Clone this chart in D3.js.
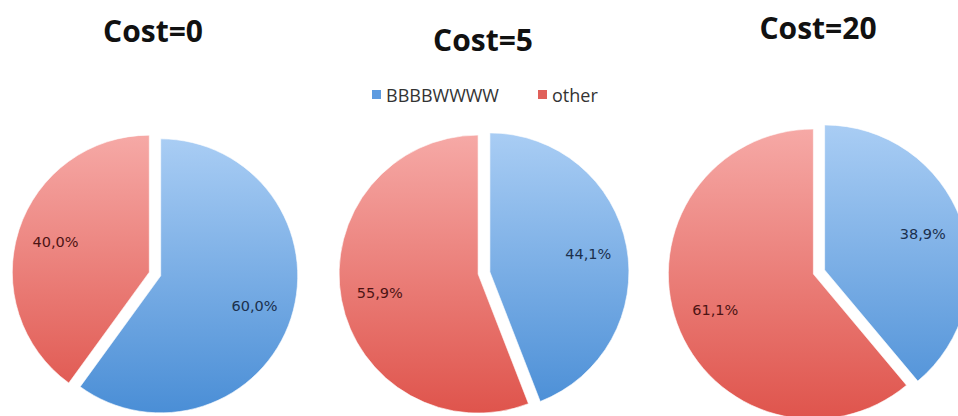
<!DOCTYPE html>
<html>
<head>
<meta charset="utf-8">
<script src="https://cdn.jsdelivr.net/npm/d3@7"></script>
<style>
  html, body { margin: 0; padding: 0; background: #fff; }
  svg { display: block; }
</style>
</head>
<body>
<svg id="chart" width="958" height="416"></svg>
<script>
// ---- data ----
const seriesNames = ["BBBBWWWW", "other"];
const chartTitles = ["Cost=0", "Cost=5", "Cost=20"];
const bbbbwwwwValues = [60.0, 44.1, 38.9];
const otherValues = [40.0, 55.9, 61.1];

// ---- layout (not data) ----
const W = 958, H = 416;
const pieLayout = [
  { cx: 155, cy: 274, r: 137, titleX: 153, titleY: 42 },
  { cx: 484, cy: 273, r: 139, titleX: 483, titleY: 51 },
  { cx: 819, cy: 272, r: 145, titleX: 818, titleY: 39 }
];
const explode = 6;
const labelFrac = 0.72;

const svg = d3.select("#chart");
const defs = svg.append("defs");

const gradStops = {
  "BBBBWWWW": ["#a9cdf4", "#4a8ed6"],
  "other": ["#f6a9a6", "#df544c"]
};
const labelColors = { "BBBBWWWW": "#1b304d", "other": "#4d1414" };
const legendColors = { "BBBBWWWW": "#5d9be0", "other": "#e0605a" };

const pie = d3.pie().sort(null).value(d => d.value).startAngle(0).endAngle(2 * Math.PI);

chartTitles.forEach((title, i) => {
  const L = pieLayout[i];
  const data = [
    { name: seriesNames[0], value: bbbbwwwwValues[i] },
    { name: seriesNames[1], value: otherValues[i] }
  ];
  const arcs = pie(data);
  const arc = d3.arc().innerRadius(0).outerRadius(L.r);
  const labelArc = d3.arc().innerRadius(L.r * labelFrac).outerRadius(L.r * labelFrac);

  seriesNames.forEach((name, k) => {
    const g = defs.append("linearGradient")
      .attr("id", `grad${i}s${k}`)
      .attr("gradientUnits", "userSpaceOnUse")
      .attr("x1", 0).attr("x2", 0)
      .attr("y1", -L.r).attr("y2", L.r);
    g.append("stop").attr("offset", "0%").attr("stop-color", gradStops[name][0]);
    g.append("stop").attr("offset", "100%").attr("stop-color", gradStops[name][1]);
  });

  const gp = svg.append("g").attr("transform", `translate(${L.cx},${L.cy})`);

  const slice = gp.selectAll("g.slice").data(arcs).enter().append("g")
    .attr("class", "slice")
    .attr("transform", d => {
      const a = (d.startAngle + d.endAngle) / 2;
      return `translate(${Math.sin(a) * explode},${-Math.cos(a) * explode})`;
    });

  slice.append("path")
    .attr("d", arc)
    .attr("fill", d => `url(#grad${i}s${seriesNames.indexOf(d.data.name)})`)
    .attr("stroke", "#ffffff")
    .attr("stroke-opacity", 0.6)
    .attr("stroke-width", 1);

  slice.append("text")
    .attr("transform", d => `translate(${labelArc.centroid(d)})`)
    .attr("text-anchor", "middle")
    .attr("dy", "0.35em")
    .attr("font-family", "DejaVu Sans, sans-serif")
    .attr("font-size", 14.5)
    .attr("fill", d => labelColors[d.data.name])
    .text(d => d.data.value.toFixed(1).replace(".", ",") + "%");

  svg.append("text")
    .attr("x", L.titleX)
    .attr("y", L.titleY)
    .attr("text-anchor", "middle")
    .attr("font-family", "Open Sans, sans-serif")
    .attr("font-weight", 700)
    .attr("font-size", 30)
    .attr("fill", "#111")
    .text(title);
});

// ---- legend ----
const legend = svg.append("g").attr("transform", "translate(372,90)");
const legendX = [0, 166];
seriesNames.forEach((name, k) => {
  const lg = legend.append("g").attr("transform", `translate(${legendX[k]},0)`);
  lg.append("rect").attr("x", 0).attr("y", 0).attr("width", 9).attr("height", 9)
    .attr("fill", legendColors[name]);
  lg.append("text").attr("x", 14).attr("y", 12)
    .attr("font-family", "Open Sans, sans-serif")
    .attr("font-size", 18)
    .attr("fill", "#333")
    .text(name);
});
</script>
</body>
</html>
